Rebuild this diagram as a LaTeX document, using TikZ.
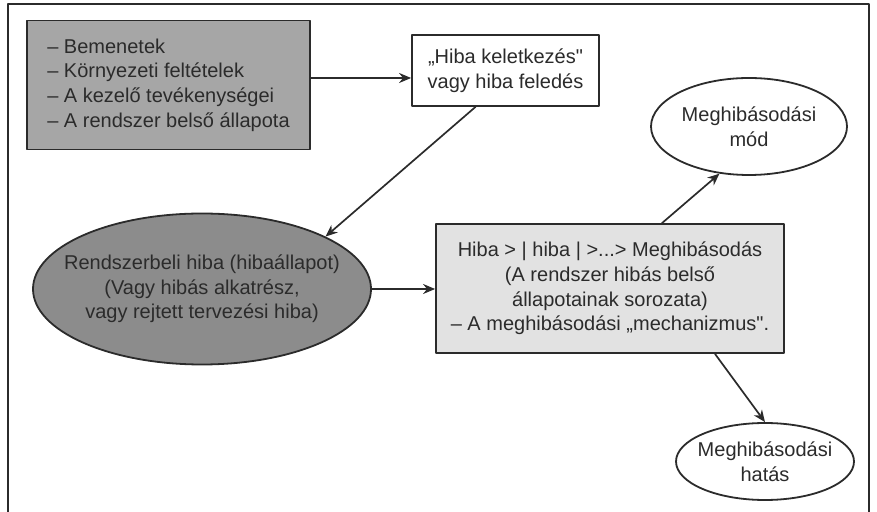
\documentclass[tikz,border=0pt]{standalone}
\usepackage{fontspec}
\setmainfont{Liberation Sans}[Ligatures=TeXOff]
\usepackage{xcolor}
\definecolor{hbink}{HTML}{2B2B2B}
\definecolor{hbdark}{HTML}{8C8C8C}
\definecolor{hbmid}{HTML}{A6A6A6}
\definecolor{hblight}{HTML}{E2E2E2}
\usepackage{tikz}
\usetikzlibrary{arrows.meta,positioning,shapes.geometric}
\tikzset{
  >={Stealth[length=6pt,width=5pt]},
  every picture/.style={line cap=round, line join=round},
  txt/.style={font=\fontsize{10}{12.35}\selectfont, text=hbink},
  box/.style={txt, draw=hbink, line width=0.9pt, rectangle, inner sep=0pt, align=center},
  oval/.style={txt, draw=hbink, line width=0.9pt, ellipse, inner sep=0pt, align=center},
  link/.style={hbink, line width=0.85pt, ->},
}

\begin{document}
\begin{tikzpicture}[x=0.5pt, y=-0.5pt]
\useasboundingbox (0,0) rectangle (877,512);
% frame, open at the bottom
\draw[hbink, line width=0.9pt] (8,512) -- (8,4) -- (869,4) -- (869,512);

% ------------------------------------------------------------------ nodes
\node[box, fill=hbmid, minimum width=141.5pt, minimum height=64.5pt, align=left]
  (inputs) at (168.5,85) {– Bemenetek\\– Környezeti feltételek\\– A kezelő tevékenységei\\– A rendszer belső állapota};
\node[box, fill=white, minimum width=93.5pt, minimum height=35.5pt]
  (origin) at (505.5,70.5) {„Hiba keletkezés"\\vagy hiba feledés};
\node[oval, fill=hbdark, inner xsep=-10pt, minimum width=169pt, minimum height=75.5pt]
  (fault) at (202,289) {Rendszerbeli hiba (hibaállapot)\\(Vagy hibás alkatrész,\\vagy rejtett tervezési hiba)};
\node[box, fill=hblight, minimum width=174pt, minimum height=64.5pt]
  (chain) at (610,288.5) {Hiba > | hiba | >...> Meghibásodás\\(A rendszer hibás belső\\állapotainak sorozata)\\– A meghibásodási „mechanizmus".};
\node[oval, fill=white, inner xsep=-1pt, minimum width=98pt, minimum height=48.5pt]
  (mode) at (749,126.5) {Meghibásodási\\mód};
\node[oval, fill=white, inner xsep=-4pt, minimum width=89pt, minimum height=38.5pt]
  (effect) at (765,461.5) {Meghibásodási\\hatás};

% ------------------------------------------------------------------ arrows
\coordinate (inlet) at ([yshift=-3.75pt]origin.west);
\draw[link] (inlet -| inputs.east) -- (inlet);
\draw[link] ([xshift=-15pt]origin.south) -- (fault.23);
\draw[link] (fault.east) -- (fault.east -| chain.west);
\draw[link] ([xshift=26pt]chain.north) -- (mode.238);
\draw[link] ([xshift=52.5pt]chain.south) -- (effect.north);
\end{tikzpicture}
\end{document}
